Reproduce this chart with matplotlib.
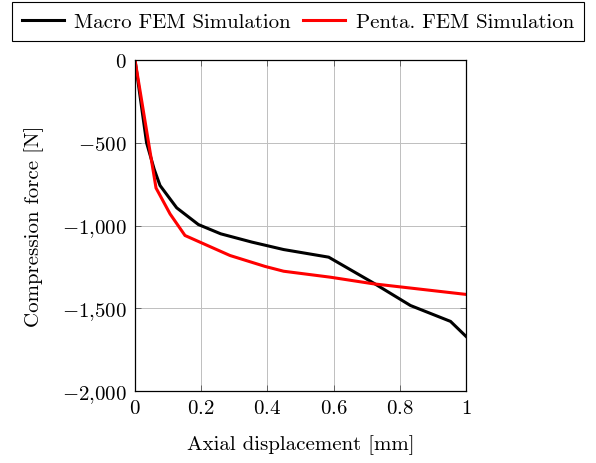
import matplotlib
matplotlib.use("Agg")
import matplotlib.pyplot as plt

plt.rcParams['font.family'] = 'serif'
plt.rcParams['font.serif'] = ['cmr10']
plt.rcParams['mathtext.fontset'] = 'cm'
plt.rcParams['axes.unicode_minus'] = False

macro_x = [0.0, 0.035, 0.058, 0.0756, 0.126, 0.1915, 0.259, 0.353, 0.449, 0.585, 0.721, 0.832, 0.953, 1.0]
macro_y = [0, -500, -660, -758, -893, -994, -1050, -1100, -1145, -1191, -1348, -1483, -1579, -1670]

penta_x = [0.0, 0.0635, 0.106, 0.151, 0.197, 0.287, 0.393, 0.449, 0.59, 0.72, 1.0]
penta_y = [0, -773, -930, -1060, -1101, -1181, -1247, -1276, -1312, -1352, -1416]

xticks = [0, 0.2, 0.4, 0.6, 0.8, 1]
xticklabels = ['$0$', '$0.2$', '$0.4$', '$0.6$', '$0.8$', '$1$']
yticks = [0, -500, -1000, -1500, -2000]
yticklabels = ['$0$', '$-500$', '$-1{,}000$', '$-1{,}500$', '$-2{,}000$']

FS = 15

fig = plt.figure(figsize=(5.96, 4.64), dpi=100)
ax = fig.add_axes([0.2265, 0.155, 0.5555, 0.7135])

ax.plot(macro_x, macro_y, color='black', lw=2.2, label='Macro FEM Simulation', solid_joinstyle='miter')
ax.plot(penta_x, penta_y, color='red', lw=2.2, label='Penta. FEM Simulation', solid_joinstyle='miter')

ax.set_xlim(0, 1)
ax.set_ylim(-2000, 0)
ax.set_xticks(xticks)
ax.set_xticklabels(xticklabels, fontsize=FS)
ax.set_yticks(yticks)
ax.set_yticklabels(yticklabels, fontsize=FS)
ax.tick_params(direction='in', length=4, width=0.6, color='#555555', top=True, right=True, pad=6)
ax.grid(True, color='#bfbfbf', lw=0.7)
ax.set_axisbelow(True)
for s in ax.spines.values():
    s.set_linewidth(0.9)

ax.set_xlabel('Axial displacement [mm]', fontsize=FS, labelpad=12)
ax.set_ylabel('Compression force [N]', fontsize=FS, labelpad=13)

leg = fig.legend(loc='upper center', bbox_to_anchor=(0.5, 0.9935), ncol=2, fontsize=FS,
                 frameon=True, fancybox=False, edgecolor='black', framealpha=1,
                 handlelength=2.0, columnspacing=0.6, handletextpad=0.5, borderpad=0.5,
                 borderaxespad=0)
leg.get_frame().set_linewidth(0.8)

fig.savefig('out.png', dpi=100)
